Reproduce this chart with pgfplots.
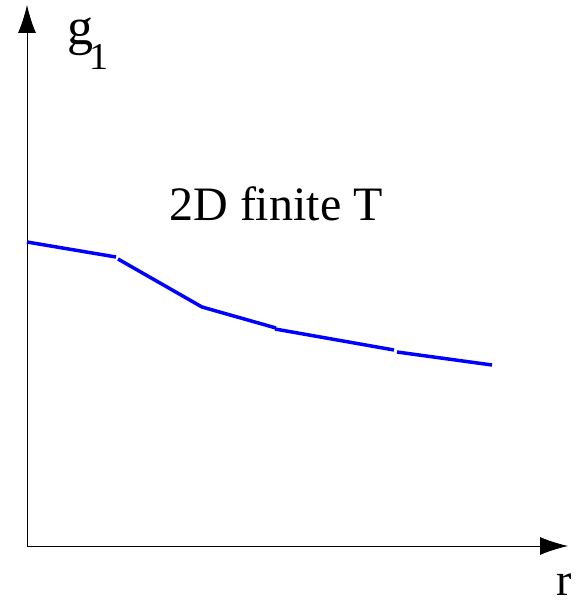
\documentclass[border=0pt]{standalone}
\usepackage{fontspec}
\setmainfont{Liberation Serif}
\usepackage{pgfplots}
\pgfplotsset{compat=1.18}
\usetikzlibrary{arrows.meta}
\begin{document}
\begin{tikzpicture}
\begin{axis}[
  scale only axis,
  width=541pt, height=541pt,
  xmin=27, xmax=568, ymin=60, ymax=601,
  axis lines=left,
  xtick=\empty, ytick=\empty,
  axis line style={line width=0.8pt},
  x axis line style={-{Latex[length=28pt,width=18pt]}},
  y axis line style={-{Latex[length=28pt,width=18pt]}},
  clip=false,
]
% page frame
\path (axis cs:0,0) rectangle (axis cs:578,606);
% g1(r) drawn as four joined pieces
\addplot[blue, line width=3.5pt, line join=round] coordinates {(27,364) (116,349)};
\addplot[blue, line width=3.5pt, line join=round] coordinates {(118,347) (202,299) (276,278)};
\addplot[blue, line width=3.5pt, line join=round] coordinates {(275,277) (394,256)};
\addplot[blue, line width=3.5pt, line join=round] coordinates {(397,254) (492,241)};
\node[font=\fontsize{48}{56}\selectfont, inner sep=0pt] at (axis cs:276,402) {2D finite T};
\node[font=\fontsize{52}{56}\selectfont, inner sep=0pt, anchor=base west] at (axis cs:67,561)
  {g\kern-4pt\raisebox{-25pt}{\fontsize{38}{44}\selectfont 1}};
\node[font=\fontsize{46}{54}\selectfont, inner sep=0pt, anchor=base] at (axis cs:564,11) {r};
\end{axis}
\end{tikzpicture}
\end{document}
